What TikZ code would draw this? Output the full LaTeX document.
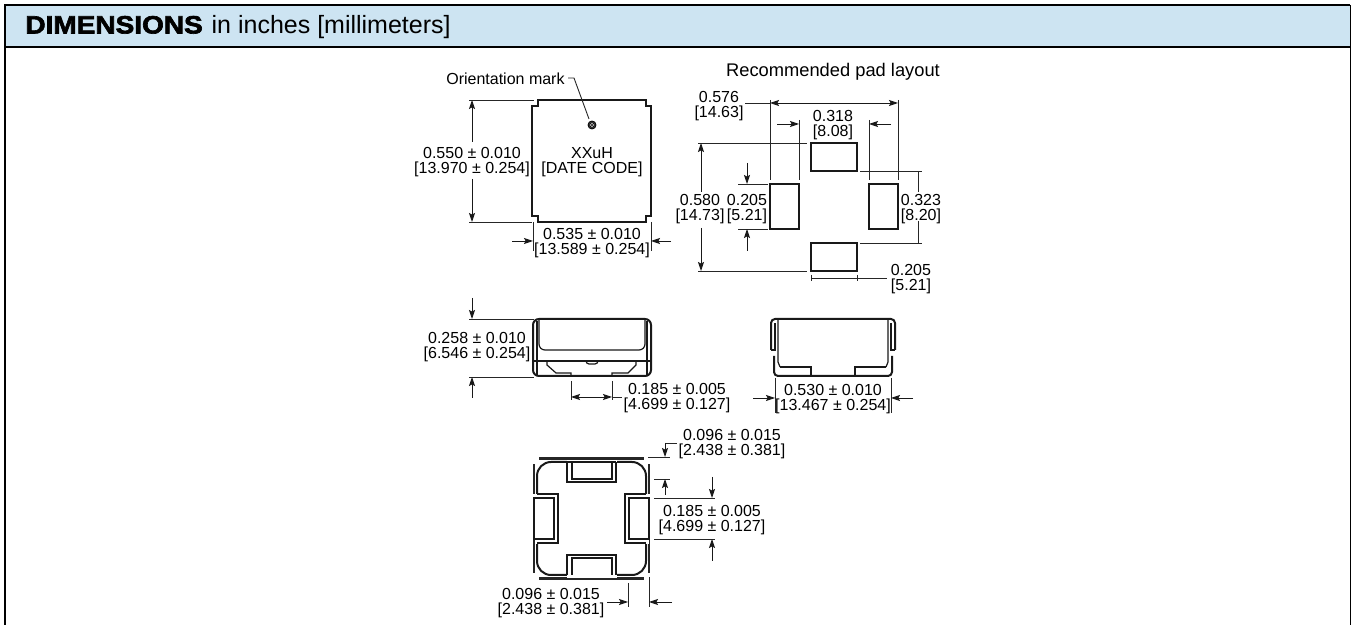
\documentclass[tikz,border=0pt]{standalone}
\usepackage{fontspec}
\setmainfont{Liberation Sans}
\newfontfamily\blackfont[BoldFeatures={FakeBold=2.6,FakeStretch=1.12}]{Liberation Sans}
\usepackage{tikz}
\usetikzlibrary{arrows.meta}

\tikzset{
  outline/.style={line width=1pt, color=black!90},
  thinline/.style={line width=0.6pt, color=black!90},
  extline/.style={line width=0.45pt, color=black!85},
  dimline/.style={line width=0.45pt, color=black!90, -{Stealth[length=4.5pt,width=3pt,inset=0.8pt]}},
  dimboth/.style={line width=0.45pt, color=black!90, {Stealth[length=4.5pt,width=3pt,inset=0.8pt]}-{Stealth[length=4.5pt,width=3pt,inset=0.8pt]}},
  dimtext/.style={inner sep=0pt, align=center, yshift=-2.1pt, font=\fontsize{8}{7.6}\selectfont}
}

\begin{document}
\begin{tikzpicture}[x=0.5pt, y=-0.5pt]
\useasboundingbox (0,0) rectangle (1351,625);

% frame and heading
\fill [color={rgb,255:red,205;green,228;blue,242}] (5,5) rectangle (1350,47);
\draw [line width=1.1pt] (5,625) -- (5,5) -- (1350,5);
\draw [line width=1.1pt] (5,47) -- (1350,47);
\draw [line width=0.5pt] (1350,5) -- (1350,625);
\node (heading) [anchor=west, inner sep=0pt, font=\fontsize{12.5}{14}\selectfont] at (25,27)
  {{\blackfont\bfseries DIMENSIONS}\hspace{1pt} in inches [millimeters]};

% top view
\draw [outline] (538,100) -- (646,100) -- (646,106) -- (651,106) -- (651,216) -- (646,216)
  -- (646,222) -- (538,222) -- (538,216) -- (532,216) -- (532,106) -- (538,106) -- cycle;
\draw [fill=black!75] (592,125) circle (4);
\draw [fill=white, line width=0.3pt] (592,125) circle (2.2);
\fill (592,125) circle (1.2);
\node (mark) [dimtext, anchor=east] at (565,75) {Orientation mark};
\draw [extline] (568,78) -- (574,78) -- (589,119);
\node (code) [dimtext] at (592,158) {XXuH\\{[DATE CODE]}};

\draw [extline] (469,100) -- (534,100);
\draw [extline] (469,222) -- (532,222);
\draw [dimline] (472,142) -- (472,100);
\draw [dimline] (472,179) -- (472,222);
\node (height) [dimtext] at (472,158) {0.550 ± 0.010\\{[13.970 ± 0.254]}};

\draw [extline] (533,222) -- (533,251);
\draw [extline] (651,222) -- (651,251);
\draw [dimline] (512,241) -- (533,241);
\draw [dimline] (671,241) -- (651,241);
\node (width) [dimtext] at (592,239) {0.535 ± 0.010\\{[13.589 ± 0.254]}};

% pad layout
\node (padtitle) [dimtext, font=\fontsize{9.15}{11}\selectfont] at (833,68) {Recommended pad layout};
\draw [outline] (811,143) rectangle (857,171);
\draw [outline] (811,243) rectangle (857,271);
\draw [outline] (770,184) rectangle (799,229);
\draw [outline] (869,184) rectangle (898,229);

\draw [extline] (770,100) -- (770,180);
\draw [extline] (898,100) -- (898,180);
\draw [extline] (799,120) -- (799,180);
\draw [extline] (869,120) -- (869,180);
\draw [extline] (745,103) -- (770,103);
\draw [dimboth] (770,103) -- (898,103);
\node (padwide) [dimtext] at (719,102) {0.576\\{[14.63]}};
\draw [dimline] (777,124) -- (799,124);
\draw [dimline] (891,124) -- (869,124);
\node (padinner) [dimtext] at (833,121) {0.318\\{[8.08]}};

\draw [extline] (698,143) -- (807,143);
\draw [extline] (698,271) -- (807,271);
\draw [dimline] (701,192) -- (701,143);
\draw [dimline] (701,228) -- (701,271);
\node (padtall) [dimtext] at (700,204.5) {0.580\\{[14.73]}};

\draw [extline] (738,184) -- (768,184);
\draw [extline] (738,229) -- (768,229);
\draw [dimline] (747,163) -- (747,184);
\draw [dimline] (747,251) -- (747,229);
\node (padside) [dimtext] at (747,204.5) {0.205\\{[5.21]}};

\draw [extline] (860,171) -- (922,171);
\draw [extline] (860,243) -- (922,243);
\draw [extline] (918,171) -- (918,192);
\draw [extline] (918,221) -- (918,243);
\node (padgap) [dimtext] at (921,204.5) {0.323\\{[8.20]}};

\draw [extline] (811,275) -- (811,281);
\draw [extline] (857,275) -- (857,281);
\draw [extline] (811,278) -- (887,278);
\node (padfoot) [dimtext] at (911,275) {0.205\\{[5.21]}};

% left side view
\draw [outline, rounded corners=3] (533,376) -- (533,319) -- (651,319) -- (651,376) -- cycle;
\draw [thinline, rounded corners=3] (539,319) -- (539,350) -- (645,350) -- (645,319);
\draw [thinline] (537,321) -- (537,376);
\draw [thinline] (647,321) -- (647,376);
\draw [thinline] (533,361) -- (651,361);
\draw [thinline] (547,361) -- (547,365) -- (556,373) -- (571,373) -- (571,376);
\draw [thinline] (636,361) -- (636,365) -- (628,373) -- (612,373) -- (612,376);
\draw [thinline, rounded corners=1.5] (586,361) -- (586,364) -- (598,364) -- (598,361);
\draw [extline] (469,319) -- (534,319);
\draw [extline] (469,377) -- (534,377);
\draw [dimline] (472,298) -- (472,319);
\draw [dimline] (472,398) -- (472,377);
\node (sideheight) [dimtext] at (477,343) {0.258 ± 0.010\\{[6.546 ± 0.254]}};
\draw [extline] (571,381) -- (571,400);
\draw [extline] (612,381) -- (612,400);
\draw [extline] (612,397) -- (622,397);
\draw [dimboth] (571,397) -- (612,397);
\node (sidefoot) [dimtext] at (677,394) {0.185 ± 0.005\\{[4.699 ± 0.127]}};

% right side view
\draw [outline, rounded corners=2] (771,350) -- (771,319) -- (895,319) -- (895,350);
\draw [thinline] (771,350) -- (775,350) -- (775,323);
\draw [thinline] (895,350) -- (891,350) -- (891,323);
\draw [thinline] (778,320) -- (778,362) -- (780,367);
\draw [thinline] (888,320) -- (888,362) -- (886,367);
\draw [outline] (780,367) -- (811,367) -- (811,376);
\draw [outline] (886,367) -- (855,367) -- (855,376);
\draw [outline, rounded corners=2] (774,356) -- (774,376) -- (892,376) -- (892,356);
\draw [extline] (775,378) -- (775,413);
\draw [extline] (891,378) -- (891,413);
\draw [dimline] (753,398) -- (775,398);
\draw [dimline] (913,398) -- (891,398);
\node (sidewidth) [dimtext] at (833,395) {0.530 ± 0.010\\{[13.467 ± 0.254]}};

% bottom view
\draw [outline, rounded corners=7] (537,462) rectangle (646,575);
\fill [black!85] (539,457) rectangle (644,460);
\fill [black!85] (539,577) rectangle (644,580);
\fill [black!85] (533,464) rectangle (535,494);
\fill [black!85] (533,539) rectangle (535,573);
\fill [black!85] (648,464) rectangle (650,494);
\fill [black!85] (648,539) rectangle (650,573);

\draw [fill=white, draw=white] (567,460) rectangle (616,482);
\draw [thinline] (567,462) -- (567,482) -- (616,482) -- (616,462);
\draw [outline] (572,462) -- (572,479) -- (612,479) -- (612,462);
\draw [thinline] (567,462) -- (616,462);

\draw [fill=white, draw=white] (567,555) rectangle (616,577);
\draw [thinline] (567,575) -- (567,555) -- (616,555) -- (616,575);
\draw [outline] (572,575) -- (572,558) -- (612,558) -- (612,575);

\draw [fill=white, draw=white] (535,494) rectangle (558,543);
\draw [thinline] (537,494) -- (558,494) -- (558,543) -- (537,543);
\draw [outline] (534,498) -- (554,498) -- (554,539) -- (534,539) -- cycle;

\draw [fill=white, draw=white] (625,494) rectangle (648,543);
\draw [thinline] (646,494) -- (625,494) -- (625,543) -- (646,543);
\draw [outline] (649,498) -- (629,498) -- (629,539) -- (649,539) -- cycle;

\draw [extline] (648,457) -- (670,457);
\draw [extline] (654,479) -- (670,479);
\draw [extline] (677,443) -- (665,443);
\draw [dimline] (665,443) -- (665,457);
\draw [dimline] (665,495) -- (665,479);
\node (tabtop) [dimtext] at (732,440) {0.096 ± 0.015\\{[2.438 ± 0.381]}};

\draw [extline] (654,498) -- (715,498);
\draw [extline] (654,539) -- (715,539);
\draw [dimline] (712,477) -- (712,498);
\draw [dimline] (712,561) -- (712,539);
\node (tabspan) [dimtext] at (712,516) {0.185 ± 0.005\\{[4.699 ± 0.127]}};

\draw [extline] (628,583) -- (628,607);
\draw [extline] (649,577) -- (649,607);
\draw [dimline] (607,602) -- (628,602);
\draw [dimline] (672,602) -- (649,602);
\node (tabside) [dimtext] at (551,599) {0.096 ± 0.015\\{[2.438 ± 0.381]}};

\end{tikzpicture}
\end{document}
